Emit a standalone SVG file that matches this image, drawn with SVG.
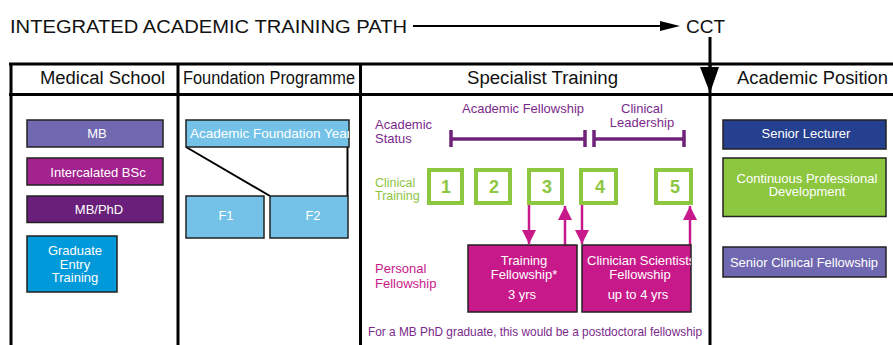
<svg xmlns="http://www.w3.org/2000/svg" width="893" height="345" viewBox="0 0 893 345">
<defs>
<style>
text{font-family:"Liberation Sans",Arial,sans-serif}
.hdr{font-size:18px;fill:#111;text-anchor:middle}
.box{stroke:#222;stroke-width:1.5}
.wt{fill:#fff;font-size:13px;text-anchor:middle}
.wl{fill:#fff;font-size:13px;text-anchor:start}
.grid{stroke:#000;stroke-width:3;fill:none}
.green{fill:none;stroke:#8dc63f;stroke-width:4}
.num{fill:#8dc63f;font-size:18px;font-weight:bold;text-anchor:middle}
.purp{fill:#7b2a8b;font-size:13px}
.mag{stroke:#c8198a;stroke-width:2.5;fill:none}
.bar{stroke:#6e2378;stroke-width:3.5;fill:none}
</style>
<marker id="ah" viewBox="0 0 10 10" refX="10" refY="5" markerWidth="5.6" markerHeight="5.6" orient="auto" markerUnits="strokeWidth">
<path d="M0,0 L10,5 L0,10 z" fill="#c8198a"/>
</marker>
<clipPath id="cA"><rect x="186" y="120" width="163" height="27"/></clipPath>
<clipPath id="cB"><rect x="582" y="245" width="109" height="67"/></clipPath>
</defs>
<rect width="893" height="345" fill="#fff"/>

<g id="title">
<text x="10" y="33" font-size="18" fill="#111" textLength="397" lengthAdjust="spacingAndGlyphs">INTEGRATED ACADEMIC TRAINING PATH</text>
<text x="686" y="33" font-size="19" fill="#111">CCT</text>
</g>

<g id="table">
<line class="grid" x1="9" y1="64" x2="893" y2="64"/>
<line class="grid" x1="9" y1="94.5" x2="893" y2="94.5"/>
<line class="grid" x1="11" y1="63" x2="11" y2="345"/>
<line class="grid" x1="178" y1="63" x2="178" y2="345"/>
<line class="grid" x1="360.5" y1="63" x2="360.5" y2="345"/>
<line class="grid" x1="710" y1="63" x2="710" y2="345"/>
<text class="hdr" x="102.5" y="84" textLength="125" lengthAdjust="spacingAndGlyphs">Medical School</text>
<text class="hdr" x="269" y="84" textLength="172" lengthAdjust="spacingAndGlyphs">Foundation Programme</text>
<text class="hdr" x="542.5" y="84" textLength="151" lengthAdjust="spacingAndGlyphs">Specialist Training</text>
<text class="hdr" x="812.5" y="84" textLength="151" lengthAdjust="spacingAndGlyphs">Academic Position</text>
</g>

<g id="connectors">
<line x1="413" y1="26" x2="662" y2="26" stroke="#000" stroke-width="2"/>
<polygon points="660,21 680,26 660,31" fill="#000"/>
<line x1="710" y1="37" x2="710" y2="70" stroke="#000" stroke-width="3"/>
<polygon points="700,67 719,67 710,93" fill="#000"/>
<line x1="186" y1="147" x2="270" y2="196" stroke="#000" stroke-width="2"/>
<line x1="347.5" y1="147" x2="347.5" y2="196" stroke="#000" stroke-width="2"/>
<line class="mag" x1="529" y1="205" x2="529" y2="244" marker-end="url(#ah)"/>
<line class="mag" x1="565" y1="245" x2="565" y2="206" marker-end="url(#ah)"/>
<line class="mag" x1="582" y1="205" x2="582" y2="244" marker-end="url(#ah)"/>
<line class="mag" x1="690" y1="245" x2="690" y2="206" marker-end="url(#ah)"/>
</g>

<g id="mb"><rect class="box" x="27" y="120" width="136" height="27" fill="#7068b0"/><text class="wt" x="97" y="138">MB</text></g>
<g id="bsc"><rect class="box" x="27" y="158" width="136" height="27" fill="#a3238e"/><text class="wt" x="98" y="177">Intercalated BSc</text></g>
<g id="mbphd"><rect class="box" x="27" y="196" width="136" height="26.5" fill="#6a1f7a"/><text class="wt" x="99" y="214">MB/PhD</text></g>
<g id="get"><rect class="box" x="27" y="236" width="90" height="56" fill="#0099d9"/>
<text class="wt" x="75" y="255" font-size="12">Graduate</text><text class="wt" x="75" y="268.5" font-size="12">Entry</text><text class="wt" x="75" y="282" font-size="12">Training</text></g>

<g id="afy"><rect class="box" x="186" y="120" width="163" height="27" fill="#74c2e8"/>
<text x="190" y="138" fill="#fff" font-size="13.5" clip-path="url(#cA)">Academic Foundation Year</text></g>
<g id="f1"><rect class="box" x="186" y="196" width="78" height="42" fill="#74c2e8"/><text class="wt" x="226" y="220" font-size="14">F1</text></g>
<g id="f2"><rect class="box" x="270" y="196" width="78" height="42" fill="#74c2e8"/><text class="wt" x="313" y="220" font-size="14">F2</text></g>

<g id="labels">
<text class="purp" x="375" y="129">Academic</text>
<text class="purp" x="375" y="143">Status</text>
<text class="purp" x="462" y="113" textLength="122" lengthAdjust="spacingAndGlyphs">Academic Fellowship</text>
<text class="purp" x="642" y="113" text-anchor="middle">Clinical</text>
<text class="purp" x="642" y="127" text-anchor="middle">Leadership</text>
<text x="375" y="187" fill="#8dc63f" font-size="12.5">Clinical</text>
<text x="375" y="200" fill="#8dc63f" font-size="12.5">Training</text>
<text x="375" y="273" fill="#c8198a" font-size="13">Personal</text>
<text x="375" y="288" fill="#c8198a" font-size="13">Fellowship</text>
<text x="368" y="336" fill="#7b2a8b" font-size="13" textLength="334" lengthAdjust="spacingAndGlyphs">For a MB PhD graduate, this would be a postdoctoral fellowship</text>
</g>

<g id="status-bars">
<line class="bar" x1="451" y1="139" x2="586" y2="139"/>
<line class="bar" x1="451" y1="130" x2="451" y2="147"/>
<line class="bar" x1="585" y1="130" x2="585" y2="147"/>
<line class="bar" x1="594" y1="139" x2="684" y2="139"/>
<line class="bar" x1="594" y1="130" x2="594" y2="147"/>
<line class="bar" x1="684" y1="130" x2="684" y2="147"/>
</g>

<g id="ct1"><rect class="green" x="429" y="170" width="33" height="33"/><text class="num" x="446" y="193">1</text></g>
<g id="ct2"><rect class="green" x="476" y="170" width="34" height="33"/><text class="num" x="494" y="193">2</text></g>
<g id="ct3"><rect class="green" x="529" y="170" width="33" height="33"/><text class="num" x="547" y="193">3</text></g>
<g id="ct4"><rect class="green" x="581" y="170" width="35" height="33"/><text class="num" x="600" y="193">4</text></g>
<g id="ct5"><rect class="green" x="656" y="170" width="35" height="33"/><text class="num" x="675" y="193">5</text></g>

<g id="tf"><rect class="box" x="468" y="245" width="109" height="67" fill="#c8198a"/>
<text class="wt" x="524" y="265">Training</text><text class="wt" x="524" y="279">Fellowship*</text><text class="wt" x="522" y="299">3 yrs</text></g>
<g id="csf"><rect class="box" x="582" y="245" width="109" height="67" fill="#c8198a"/>
<text class="wl" x="587" y="265" clip-path="url(#cB)">Clinician Scientists</text>
<text class="wt" x="640" y="279">Fellowship</text><text class="wt" x="638" y="299">up to 4 yrs</text></g>

<g id="sl"><rect class="box" x="723" y="120" width="163" height="29" fill="#25408f"/><text class="wt" x="806" y="138">Senior Lecturer</text></g>
<g id="cpd"><rect class="box" x="723" y="158" width="163" height="58.5" fill="#8dc63f"/>
<text class="wt" x="807" y="182.5" font-size="12.5">Continuous Professional</text><text class="wt" x="807" y="196" font-size="12.5">Development</text></g>
<g id="scf"><rect class="box" x="723" y="247" width="163" height="30" fill="#6f67b0"/><text class="wt" x="804" y="267">Senior Clinical Fellowship</text></g>
</svg>
